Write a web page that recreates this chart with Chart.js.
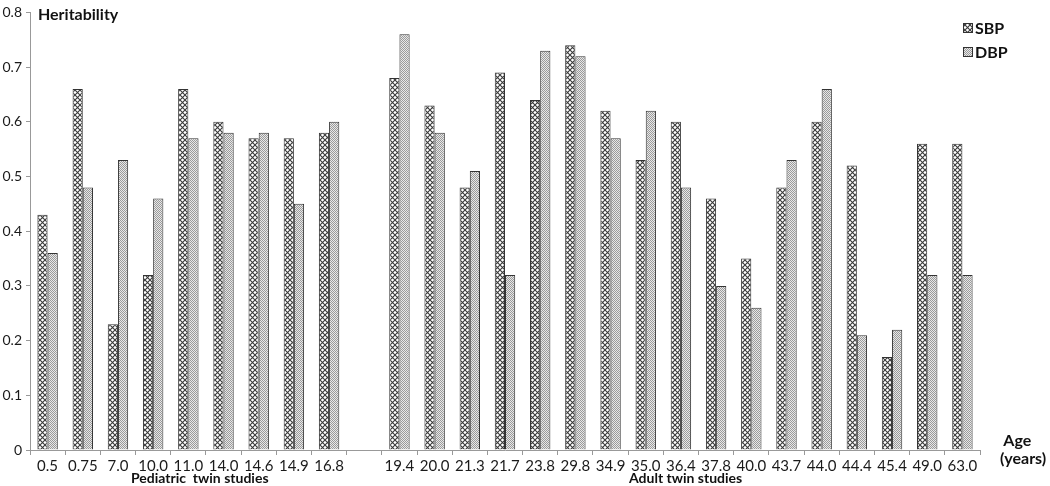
<!DOCTYPE html>
<html>
<head>
<meta charset="utf-8">
<script src="https://cdn.jsdelivr.net/npm/chart.js@4/dist/chart.umd.min.js"></script>
<style>
  body { margin: 0; background: #fff; font-family: Lato, sans-serif; }
  #wrap { position: relative; width: 1050px; height: 486px; }
  .lbl { position: absolute; font-weight: bold; color: #111; font-size: 15px; line-height: 17px; white-space: nowrap; }
</style>
</head>
<body>
<div id="wrap">
  <canvas id="heritChart" width="1050" height="486"></canvas>
  <div class="lbl" style="left:38px; top:5px; font-size:16px;">Heritability</div>
  <div class="lbl" style="left:131px; top:469px; font-size:14px;">Pediatric&nbsp; twin studies</div>
  <div class="lbl" style="left:629px; top:469px; font-size:14px;">Adult twin studies</div>
  <div class="lbl" style="left:1000px; top:431px; font-size:16px; line-height:18px;">&nbsp;Age<br>(years)</div>
</div>
<script>
// 数据
const ages = ['0.5', '0.75', '7.0', '10.0', '11.0', '14.0', '14.6', '14.9', '16.8', '',
  '19.4', '20.0', '21.3', '21.7', '23.8', '29.8', '34.9', '35.0', '36.4', '37.8',
  '40.0', '43.7', '44.0', '44.4', '45.4', '49.0', '63.0'];
const sbp = [0.43, 0.66, 0.23, 0.32, 0.66, 0.60, 0.57, 0.57, 0.58, null,
  0.68, 0.63, 0.48, 0.69, 0.64, 0.74, 0.62, 0.53, 0.60, 0.46,
  0.35, 0.48, 0.60, 0.52, 0.17, 0.56, 0.56];
const dbp = [0.36, 0.48, 0.53, 0.46, 0.57, 0.58, 0.58, 0.45, 0.60, null,
  0.76, 0.58, 0.51, 0.32, 0.73, 0.72, 0.57, 0.62, 0.48, 0.30,
  0.26, 0.53, 0.66, 0.21, 0.22, 0.32, 0.32];
const yTicks = [0, 0.1, 0.2, 0.3, 0.4, 0.5, 0.6, 0.7, 0.8];

// 图案填充
function crossPattern() {
  const c = document.createElement('canvas');
  c.width = 5; c.height = 5;
  const g = c.getContext('2d');
  g.fillStyle = '#fff';
  g.fillRect(0, 0, 5, 5);
  g.strokeStyle = '#3a3a3a';
  g.lineWidth = 1.1;
  g.beginPath();
  g.moveTo(-1, -1); g.lineTo(6, 6);
  g.moveTo(-1, 6); g.lineTo(6, -1);
  g.stroke();
  return g.createPattern(c, 'repeat');
}
function dotPattern() {
  const c = document.createElement('canvas');
  c.width = 2; c.height = 2;
  const g = c.getContext('2d');
  g.fillStyle = '#e8e8e8';
  g.fillRect(0, 0, 2, 2);
  g.fillStyle = '#9a9a9a';
  g.fillRect(0, 0, 1, 1);
  g.fillRect(1, 1, 1, 1);
  return g.createPattern(c, 'repeat');
}
const sbpFill = crossPattern();
const dbpFill = dotPattern();

// 图例（右上角）
const cornerLegend = {
  id: 'cornerLegend',
  afterDraw(chart) {
    const ctx = chart.ctx;
    const items = [['SBP', sbpFill, 28], ['DBP', dbpFill, 52]];
    ctx.save();
    items.forEach(([text, fill, y]) => {
      ctx.fillStyle = fill;
      ctx.fillRect(963, y - 5, 9, 9);
      ctx.strokeStyle = '#333';
      ctx.lineWidth = 1;
      ctx.strokeRect(963.5, y - 4.5, 9, 9);
      ctx.fillStyle = '#111';
      ctx.font = 'bold 16px Lato';
      ctx.textBaseline = 'middle';
      ctx.fillText(text, 975, y + 1);
    });
    ctx.restore();
  }
};

const ctx = document.getElementById('heritChart').getContext('2d');
new Chart(ctx, {
  type: 'bar',
  data: {
    labels: ages,
    datasets: [
      { label: 'SBP', data: sbp, backgroundColor: sbpFill, borderColor: '#333', borderWidth: 1,
        categoryPercentage: 0.58, barPercentage: 1 },
      { label: 'DBP', data: dbp, backgroundColor: dbpFill, borderColor: '#333', borderWidth: 1,
        categoryPercentage: 0.58, barPercentage: 1 }
    ]
  },
  options: {
    responsive: false,
    animation: false,
    layout: { padding: { top: 8, right: 70, left: 0, bottom: 0 } },
    plugins: { legend: { display: false }, tooltip: { enabled: false } },
    scales: {
      x: {
        grid: { offset: true, drawOnChartArea: false, tickLength: 5, color: '#999' },
        border: { color: '#999' },
        ticks: { color: '#1a1a1a', font: { family: 'Lato', size: 15 }, padding: 2, maxRotation: 0, autoSkip: false },
        afterFit(s) { s.height = 36; }
      },
      y: {
        min: 0, max: 0.8,
        afterBuildTicks(s) { s.ticks = yTicks.map(v => ({ value: v })); },
        grid: { drawOnChartArea: false, tickLength: 4, color: '#999' },
        border: { color: '#999' },
        ticks: { color: '#1a1a1a', font: { family: 'Lato', size: 14 }, padding: 4,
          callback: v => v === 0 ? '0' : v.toFixed(1) },
        afterFit(s) { s.width = 30; }
      }
    }
  },
  plugins: [cornerLegend]
});
</script>
</body>
</html>
